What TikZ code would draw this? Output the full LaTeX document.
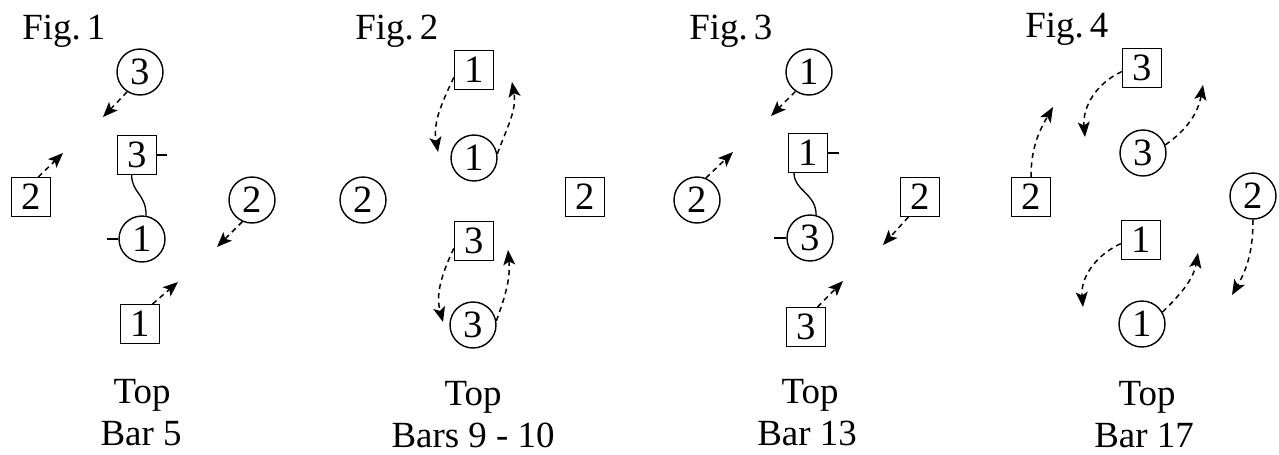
\documentclass[tikz,border=0pt]{standalone}
\usepackage{fontspec}
\setmainfont{Liberation Serif}
\usetikzlibrary{arrows.meta}
\tikzstyle{dancer} = [draw, circle, line width=0.8pt, minimum size=0.92cm,
    inner sep=0pt, font=\fontsize{22}{26}\selectfont]
\tikzstyle{partner} = [draw, rectangle, line width=0.8pt, minimum width=0.78cm,
    minimum height=0.77cm, inner sep=0pt, font=\fontsize{22}{26}\selectfont]
\tikzstyle{move} = [line width=0.85pt, dash pattern=on 3pt off 2.4pt,
    -{Stealth[length=0.3cm, width=0.24cm, inset=0.07cm]}]
\tikzstyle{hold} = [line width=0.75pt]
\tikzstyle{caption} = [anchor=base, inner sep=0pt, font=\fontsize{21}{25}\selectfont]

\begin{document}
\begin{tikzpicture}[x=0.02cm, y=-0.02cm]
\useasboundingbox (0,0) rectangle (1279,454);

% Fig. 1
\node[caption, anchor=base west] (fig1) at (22,39) {Fig.\,1};
\node[dancer] (f1c3) at (140,72) {3};
\node[partner] (f1s3) at (137,155) {3};
\node[partner] (f1s2) at (31,197) {2};
\node[dancer] (f1c2) at (252,200) {2};
\node[dancer] (f1c1) at (142,239) {1};
\node[partner] (f1s1) at (140,324) {1};
\coordinate (f1a) at (103,117);
\coordinate (f1b) at (63,153);
\coordinate (f1c) at (217,247);
\coordinate (f1d) at (178,282);
\draw[move] (f1c3.237) -- (f1a);
\draw[move] (f1s2.70) -- (f1b);
\draw[move] (f1c2.246) -- (f1c);
\draw[move] (f1s1.58) -- (f1d);
\draw[hold] (f1s3.east) -- ++(10,0);
\draw[hold] (f1c1.west) -- ++(-11,0);
\draw[hold] (f1s3.-105) .. controls +(0,18) and +(0,-22) .. (f1c1.80);
\node[caption] (top1) at (142,403) {Top};
\node[caption] (bar1) at (141,445) {Bar 5};

% Fig. 2
\node[caption, anchor=base west] (fig2) at (355,39) {Fig.\,2};
\node[partner] (f2s1) at (474,70) {1};
\node[dancer] (f2c1) at (474,158) {1};
\node[dancer] (f2c2) at (363,200) {2};
\node[partner] (f2s2) at (585,197) {2};
\node[partner] (f2s3) at (474,241) {3};
\node[dancer] (f2c3) at (473,325) {3};
\coordinate (f2a) at (438,152);
\coordinate (f2b) at (512,82);
\coordinate (f2c) at (443,322);
\coordinate (f2d) at (508,250);
\draw[move] (f2s1.200) to[out=245, in=100] (f2a);
\draw[move] (f2c1.10) to[out=70, in=-80] (f2b);
\draw[move] (f2s3.200) to[out=245, in=105] (f2c);
\draw[move] (f2c3.10) to[out=70, in=-85] (f2d);
\node[caption] (top2) at (473,405) {Top};
\node[caption] (bar2) at (473,447) {Bars 9 - 10};

% Fig. 3
\node[caption, anchor=base west] (fig3) at (689,39) {Fig.\,3};
\node[dancer] (f3c1) at (809,72) {1};
\node[partner] (f3s1) at (808,153) {1};
\node[dancer] (f3c2) at (697,200) {2};
\node[partner] (f3s2) at (920,197) {2};
\node[dancer] (f3c3) at (810,238) {3};
\node[partner] (f3s3) at (806,327) {3};
\coordinate (f3a) at (771,116);
\coordinate (f3b) at (733,152);
\coordinate (f3c) at (883,245);
\coordinate (f3d) at (843,281);
\draw[move] (f3c1.235) -- (f3a);
\draw[move] (f3c2.68) -- (f3b);
\draw[move] (f3s2.-120) -- (f3c);
\draw[move] (f3s3.60) -- (f3d);
\draw[hold] (f3s1.east) -- ++(11,0);
\draw[hold] (f3c3.west) -- ++(-12,0);
\draw[hold] (f3s1.-125) .. controls +(0,18) and +(0,-22) .. (f3c3.75);
\node[caption] (top3) at (810,403) {Top};
\node[caption] (bar3) at (807,445) {Bar 13};

% Fig. 4
\node[caption, anchor=base west] (fig4) at (1025,37) {Fig.\,4};
\node[partner] (f4s3) at (1142,68) {3};
\node[dancer] (f4c3) at (1143,153) {3};
\node[partner] (f4s2) at (1031,197) {2};
\node[dancer] (f4c2) at (1253,196) {2};
\node[partner] (f4s1) at (1141,240) {1};
\node[dancer] (f4c1) at (1142,324) {1};
\coordinate (f4a) at (1085,137);
\coordinate (f4b) at (1203,85);
\coordinate (f4c) at (1053,107);
\coordinate (f4d) at (1232,295);
\coordinate (f4e) at (1083,307);
\coordinate (f4f) at (1198,253);
\draw[move] (f4s3.190) to[out=205, in=95] (f4a);
\draw[move] (f4c3.20) to[out=35, in=-100] (f4b);
\draw[move] (f4s2.north) to[out=90, in=-120] (f4c);
\draw[move] (f4c2.south) to[out=-90, in=60] (f4d);
\draw[move] (f4s1.190) to[out=205, in=95] (f4e);
\draw[move] (f4c1.30) to[out=45, in=-100] (f4f);
\node[caption] (top4) at (1147,405) {Top};
\node[caption] (bar4) at (1144,447) {Bar 17};

\end{tikzpicture}
\end{document}
